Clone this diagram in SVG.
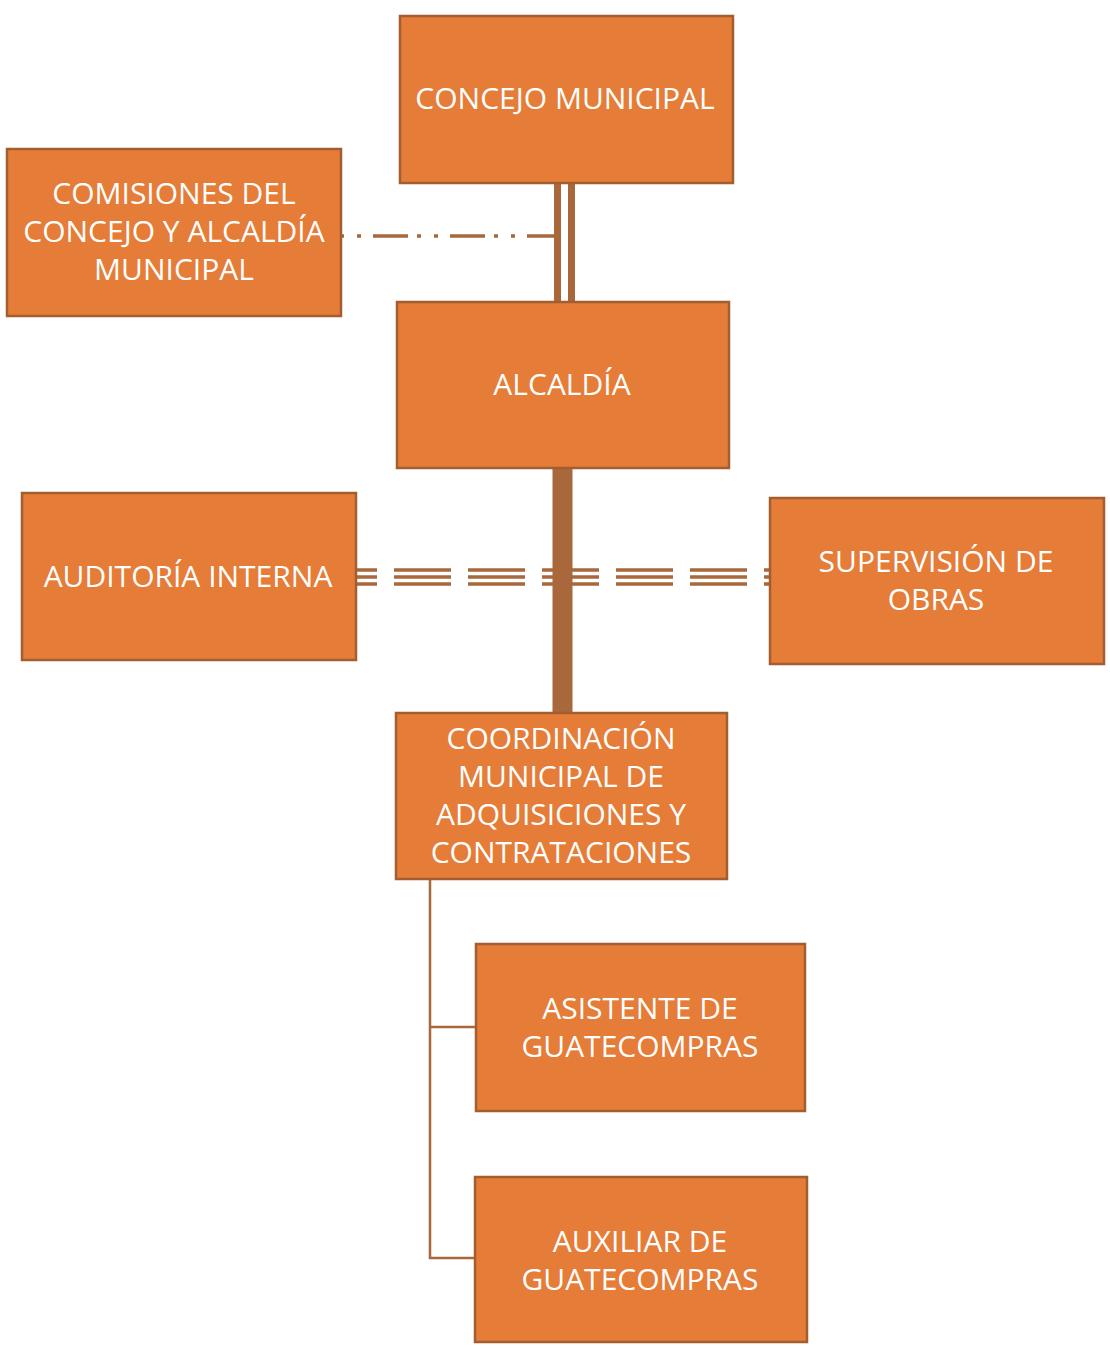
<svg xmlns="http://www.w3.org/2000/svg" width="1110" height="1349" viewBox="0 0 1110 1349">
<style>
.box{fill:#E57C38;stroke:#A35D2E;stroke-width:2.5}
.t{font-family:"Open Sans","Liberation Sans",sans-serif;font-size:30px;fill:#FFFFFF;text-anchor:middle}
.c{stroke:#A8683B;fill:none}
</style>
<rect width="1110" height="1349" fill="#FFFFFF"/>
<g id="connectors">
  <line class="c" x1="557.5" y1="183" x2="557.5" y2="302" stroke-width="7"/>
  <line class="c" x1="571.5" y1="183" x2="571.5" y2="302" stroke-width="7"/>
  <line class="c" x1="341" y1="236" x2="554" y2="236" stroke-width="3.5" stroke-dasharray="35 9 4 13 4 12" stroke-dashoffset="45"/>
  <g stroke-dasharray="57 17" stroke-dashoffset="35">
    <line class="c" x1="355" y1="570" x2="770" y2="570" stroke-width="3.5"/>
    <line class="c" x1="355" y1="577" x2="770" y2="577" stroke-width="3.5"/>
    <line class="c" x1="355" y1="584" x2="770" y2="584" stroke-width="3.5"/>
  </g>
  <line class="c" x1="562.5" y1="468" x2="562.5" y2="713" stroke-width="20"/>
  <polyline class="c" points="430,879 430,1258 476,1258" stroke-width="2.5"/>
  <line class="c" x1="430" y1="1027" x2="477" y2="1027" stroke-width="2.5"/>
</g>
<g id="concejo">
  <rect class="box" x="400" y="16" width="333" height="167"/>
  <text class="t" x="565" y="109">CONCEJO MUNICIPAL</text>
</g>
<g id="comisiones">
  <rect class="box" x="7" y="149" width="334" height="167"/>
  <text class="t" x="174" y="204">COMISIONES DEL</text>
  <text class="t" x="174" y="242">CONCEJO Y ALCALDÍA</text>
  <text class="t" x="174" y="280">MUNICIPAL</text>
</g>
<g id="alcaldia">
  <rect class="box" x="397" y="302" width="332" height="166"/>
  <text class="t" x="562" y="395">ALCALDÍA</text>
</g>
<g id="auditoria">
  <rect class="box" x="22" y="493" width="334" height="167"/>
  <text class="t" x="188" y="587">AUDITORÍA INTERNA</text>
</g>
<g id="supervision">
  <rect class="box" x="770" y="498" width="334" height="166"/>
  <text class="t" x="936" y="572">SUPERVISIÓN DE</text>
  <text class="t" x="936" y="610">OBRAS</text>
</g>
<g id="coordinacion">
  <rect class="box" x="396" y="713" width="331" height="166"/>
  <text class="t" x="561" y="749">COORDINACIÓN</text>
  <text class="t" x="561" y="787">MUNICIPAL DE</text>
  <text class="t" x="561" y="825">ADQUISICIONES Y</text>
  <text class="t" x="561" y="863">CONTRATACIONES</text>
</g>
<g id="asistente">
  <rect class="box" x="476" y="944" width="329" height="167"/>
  <text class="t" x="640" y="1019">ASISTENTE DE</text>
  <text class="t" x="640" y="1057">GUATECOMPRAS</text>
</g>
<g id="auxiliar">
  <rect class="box" x="475" y="1177" width="332" height="165"/>
  <text class="t" x="640" y="1252">AUXILIAR DE</text>
  <text class="t" x="640" y="1290">GUATECOMPRAS</text>
</g>
</svg>
